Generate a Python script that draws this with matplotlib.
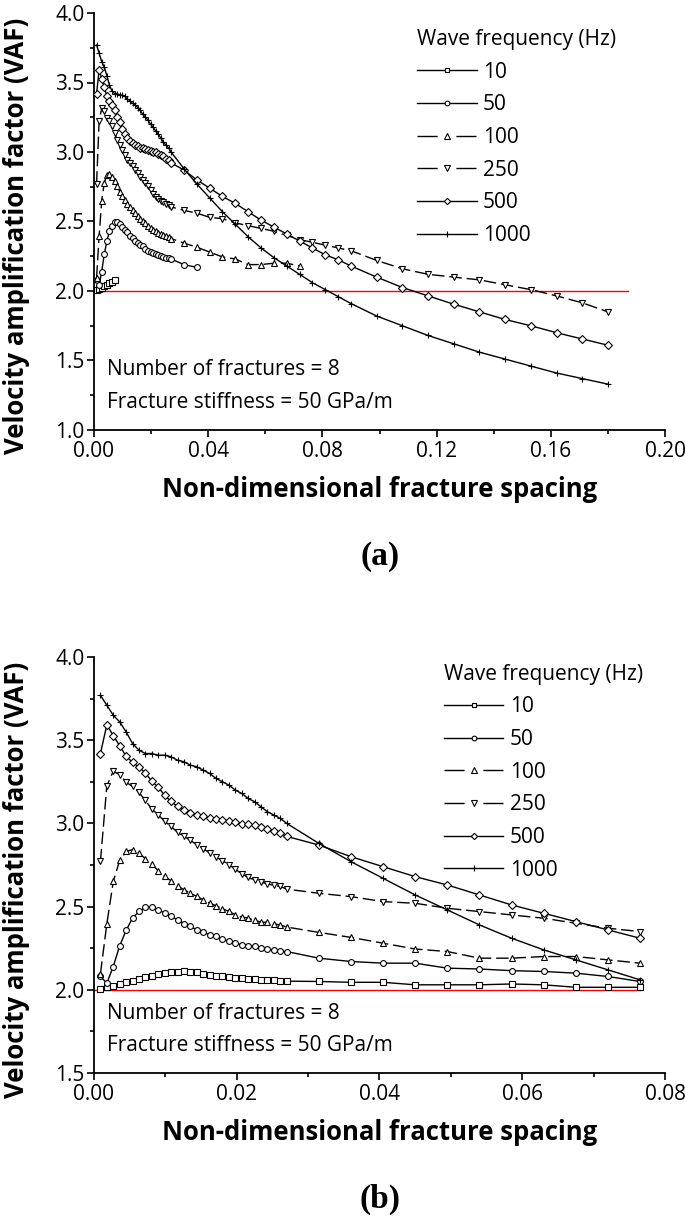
import matplotlib
matplotlib.use('Agg')
import matplotlib.pyplot as plt
from matplotlib.ticker import MultipleLocator, FormatStrFormatter

plt.rcParams['font.family'] = ['Open Sans', 'DejaVu Sans']

# non-dimensional fracture spacing
x_dense = [0.0009, 0.0018, 0.0027, 0.0036, 0.0045, 0.0054, 0.0063, 0.0072, 0.0081, 0.0090,
           0.0099, 0.0108, 0.0117, 0.0126, 0.0135, 0.0144, 0.0153, 0.0162, 0.0171, 0.0180,
           0.0189, 0.0198, 0.0207, 0.0216, 0.0225, 0.0234, 0.0243, 0.0252, 0.0261, 0.0270]
x_sparse = [0.0315, 0.0360, 0.0405, 0.0450, 0.0495, 0.0540, 0.0585, 0.0630, 0.0675, 0.0720, 0.0765]
x_far = [0.0810, 0.0855, 0.0900, 0.0990, 0.1080, 0.1170, 0.1260, 0.1350, 0.1440, 0.1530,
         0.1620, 0.1710, 0.1800]

freqs = ['10', '50', '100', '250', '500', '1000']

# VAF for each wave frequency
vaf_10 = [2.006, 2.016, 2.024, 2.034, 2.044, 2.054, 2.064, 2.076, 2.084, 2.094,
          2.100, 2.104, 2.108, 2.110, 2.108, 2.104, 2.096, 2.090, 2.084, 2.080,
          2.076, 2.072, 2.068, 2.066, 2.064, 2.060, 2.058, 2.056, 2.054, 2.052,
          2.050, 2.045, 2.045, 2.030, 2.030, 2.030, 2.035, 2.030, 2.015, 2.015, 2.015]
vaf_50 = [2.080, 2.040, 2.140, 2.265, 2.357, 2.431, 2.471, 2.495, 2.495, 2.481,
          2.461, 2.441, 2.421, 2.397, 2.381, 2.361, 2.345, 2.331, 2.321, 2.305,
          2.291, 2.281, 2.271, 2.265, 2.261, 2.251, 2.244, 2.240, 2.234, 2.230,
          2.190, 2.170, 2.160, 2.160, 2.130, 2.125, 2.115, 2.110, 2.100, 2.080, 2.050]
vaf_100 = [2.096, 2.397, 2.651, 2.778, 2.832, 2.842, 2.822, 2.788, 2.756, 2.715,
           2.681, 2.655, 2.625, 2.601, 2.581, 2.561, 2.541, 2.521, 2.505, 2.487,
           2.471, 2.451, 2.437, 2.431, 2.417, 2.407, 2.405, 2.397, 2.389, 2.377,
           2.345, 2.315, 2.280, 2.245, 2.230, 2.190, 2.190, 2.200, 2.200, 2.180, 2.160]
vaf_250 = [2.772, 3.226, 3.313, 3.293, 3.247, 3.222, 3.186, 3.138, 3.086, 3.052,
           3.012, 2.982, 2.946, 2.922, 2.898, 2.872, 2.848, 2.822, 2.798, 2.776,
           2.752, 2.725, 2.697, 2.675, 2.661, 2.647, 2.637, 2.627, 2.621, 2.605,
           2.580, 2.560, 2.530, 2.520, 2.490, 2.470, 2.450, 2.430, 2.400, 2.370, 2.350]
vaf_500 = [3.419, 3.593, 3.527, 3.467, 3.403, 3.367, 3.339, 3.303, 3.253, 3.218,
           3.168, 3.132, 3.102, 3.078, 3.062, 3.052, 3.042, 3.032, 3.026, 3.022,
           3.016, 3.008, 2.998, 2.998, 2.988, 2.978, 2.968, 2.952, 2.942, 2.922,
           2.870, 2.800, 2.740, 2.680, 2.630, 2.570, 2.510, 2.460, 2.410, 2.360, 2.310]
vaf_1000 = [3.77, 3.71, 3.65, 3.61, 3.55, 3.48, 3.44, 3.42, 3.42, 3.41,
            3.41, 3.40, 3.38, 3.37, 3.35, 3.34, 3.32, 3.30, 3.27, 3.25,
            3.23, 3.20, 3.18, 3.15, 3.13, 3.10, 3.07, 3.05, 3.03, 3.00,
            2.88, 2.77, 2.67, 2.57, 2.48, 2.39, 2.31, 2.24, 2.18, 2.12, 2.06]

# points beyond 0.0765, only in (a)
vaf_250_far = [2.33, 2.31, 2.29, 2.22, 2.16, 2.12, 2.10, 2.08, 2.045, 2.01, 1.965, 1.915, 1.85]
vaf_500_far = [2.26, 2.225, 2.18, 2.10, 2.025, 1.965, 1.905, 1.85, 1.795, 1.75, 1.70, 1.655, 1.61]
vaf_1000_far = [2.01, 1.96, 1.91, 1.82, 1.75, 1.68, 1.62, 1.56, 1.51, 1.46, 1.41, 1.37, 1.33]

# how many points the short curves have in (a)
n_top = {'10': 8, '50': 32, '100': 40}

ref_vaf = 2.0
ref_end = [0.187, 0.0765]

vaf = dict(zip(freqs, [vaf_10, vaf_50, vaf_100, vaf_250, vaf_500, vaf_1000]))
vaf_far = {'250': vaf_250_far, '500': vaf_500_far, '1000': vaf_1000_far}
x_all = x_dense + x_sparse

dash = (0, (9, 3.5))
styles = {
    '10': dict(marker='s', ls='-', ms=3.8),
    '50': dict(marker='o', ls='-', ms=4.2),
    '100': dict(marker='^', ls=dash, ms=4.8),
    '250': dict(marker='v', ls=dash, ms=4.8),
    '500': dict(marker='D', ls='-', ms=4.0),
    '1000': dict(marker='+', ls='-', ms=5),
}

W, H = 685, 1219
fig = plt.figure(figsize=(W / 100, H / 100), dpi=100)


def px_box(x0, x1, y0, y1):
    return [x0 / W, 1 - y1 / H, (x1 - x0) / W, (y1 - y0) / H]


ax_a = fig.add_axes(px_box(94, 665, 13, 430))
ax_b = fig.add_axes(px_box(94, 665, 657, 1073))


def draw(ax, top):
    ax.plot([0, ref_end[0] if top else ref_end[1]], [ref_vaf, ref_vaf],
            color='red', lw=1.0, zorder=1)
    for f in freqs:
        xs, ys = list(x_all), list(vaf[f])
        if top:
            if f in n_top:
                xs, ys = xs[:n_top[f]], ys[:n_top[f]]
            if f in vaf_far:
                xs, ys = xs + x_far, ys + vaf_far[f]
        st = styles[f]
        ax.plot(xs, ys, color='black', lw=1.0, ls=st['ls'], marker=st['marker'],
                ms=st['ms'], mfc='white', mec='black', mew=0.8, label=f, zorder=3)

    for s in ['top', 'right']:
        ax.spines[s].set_visible(False)
    for s in ['left', 'bottom']:
        ax.spines[s].set_linewidth(1.3)
    ax.tick_params(which='major', direction='out', length=5, width=1.2, labelsize=15, pad=2)
    ax.tick_params(which='minor', direction='out', length=3, width=1.2)
    ax.tick_params(axis='x', pad=3)
    ax.yaxis.set_major_formatter(FormatStrFormatter('%.1f'))
    ax.xaxis.set_major_formatter(FormatStrFormatter('%.2f'))
    ax.yaxis.set_major_locator(MultipleLocator(0.5))
    ax.yaxis.set_minor_locator(MultipleLocator(0.25))
    if top:
        ax.set_xlim(0, 0.2)
        ax.set_ylim(1.0, 4.0)
        ax.xaxis.set_major_locator(MultipleLocator(0.04))
        ax.xaxis.set_minor_locator(MultipleLocator(0.02))
    else:
        ax.set_xlim(0, 0.08)
        ax.set_ylim(1.5, 4.0)
        ax.xaxis.set_major_locator(MultipleLocator(0.02))
        ax.xaxis.set_minor_locator(MultipleLocator(0.01))

    ax.set_xlabel('Non-dimensional fracture spacing', fontsize=18.5, fontweight='bold')
    ax.set_ylabel('Velocity amplification factor (VAF)', fontsize=18.5, fontweight='bold')
    ax.xaxis.set_label_coords(0.5, -0.11)
    ax.yaxis.set_label_coords(-0.112, 0.465)

    ax.text(0.022, 0.144, 'Number of fractures = 8', transform=ax.transAxes,
            fontsize=15, va='center')
    ax.text(0.022, 0.067, 'Fracture stiffness = 50 GPa/m', transform=ax.transAxes,
            fontsize=15, va='center')

    leg = ax.legend(title='Wave frequency (Hz)', loc='upper left',
                    bbox_to_anchor=(0.566, 0.962) if top else (0.613, 0.984),
                    frameon=False, fontsize=15, title_fontsize=15, alignment='left',
                    handlelength=2.85, handletextpad=0.3, labelspacing=0.56,
                    borderpad=0, borderaxespad=0, markerscale=0.8)
    # dashed handles: one gap round the marker
    for f, ln in zip(freqs, leg.get_lines()):
        if styles[f]['ls'] == dash:
            ln.set_dashes([14.5, 13.5, 14.5, 100])


draw(ax_a, True)
draw(ax_b, False)

fig.text(380 / W, 1 - 556 / H, '(a)', fontsize=24, fontweight='bold',
         family='Liberation Serif', ha='center', va='center')
fig.text(380 / W, 1 - 1199 / H, '(b)', fontsize=24, fontweight='bold',
         family='Liberation Serif', ha='center', va='center')

fig.savefig('out.png', dpi=100)
